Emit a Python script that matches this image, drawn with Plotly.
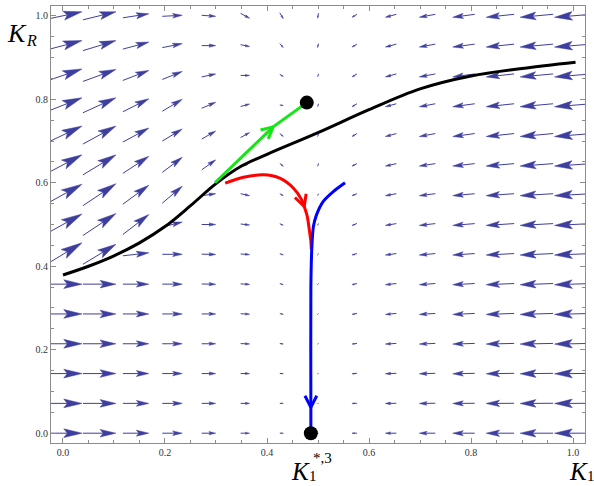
import math
import plotly.graph_objects as go

# ---------------- data ----------------
grid_x = [i / 14 for i in range(15)]          # arrow columns (K1)
grid_y = [j / 14 for j in range(15)]          # arrow rows (K_R)

# horizontal field component per column (display units, + = towards larger K1)
u_col = [38, 33, 26, 20, 14, 9, 3.5, -1, -5, -11, -16, -22, -28, -33, -37]

# vertical field component, rows from K_R = 0 (bottom) to K_R = 1 (top)
v_rows = [
    [0, 0, 0, 0, 0, 0, 0, 0, 0, 0, 0, 0, 0, 0, 0],
    [0, 0, 0, 0, 0, 0, 0, -0.2, -0.2, -0.2, -0.2, -0.2, -0.2, -0.2, -0.2],
    [0, 0, 0, 0, 0, 0, -0.3, -0.5, -0.5, -0.5, -0.5, -0.5, -0.5, -0.5, -0.5],
    [0, 0, 0, 0, 0, -0.3, -0.5, -0.7, -0.7, -0.7, -0.7, -0.7, -0.7, -0.7, -0.7],
    [0, 0, 0, 0, 0, -0.4, -0.7, -1, -1, -1, -1, -1, -1, -1, -1],
    [0, 0, 0, 0, -0.3, -0.5, -1, -1.2, -1.2, -1.2, -1.2, -1.2, -1.2, -1.2, -1.2],
    [23, 20, 3, 0, -0.3, -0.6, -1.2, -1.5, -1.5, -1.5, -1.5, -1.5, -1.5, -1.5, -1.5],
    [21, 22, 20, 5, 0, -1, -1.5, -2, -2, -1.8, -1.8, -1.8, -1.8, -1.8, -1.8],
    [21, 22, 19, 17, 2, -2, -2, -2, -2, -2, -2, -2, -2, -2, -2],
    [20, 20, 17, 15, 10, 4, -3, -3, -2.5, -2.5, -2.5, -2.5, -2.5, -2.5, -2.5],
    [18, 18, 14, 12, 8, 5, -3, -3, -3, -3, -3, -3, -3, -3, -3],
    [15, 15, 13, 12, 6, 2.5, -0.5, -3, -3, -3, -3, -3, -3, -3, -3],
    [13, 12, 10, 8, 3, 0, -2, -3, -3, -3, -3, -3, -3, -3, -3],
    [10, 10, 7, 4, 0, -2, -4, -4, -3, -3, -3, -3, -3, -3, -3],
    [8, 8, 4, 1, -1, -5, -6, -5, -3, -3, -3, -3, -3, -3, -3],
]

# separatrix (black)
sep_x = [0.0, 0.05, 0.10, 0.15, 0.20, 0.25, 0.30, 0.35, 0.40, 0.50, 0.60, 0.70, 0.80, 0.90, 1.005]
sep_y = [0.379, 0.400, 0.425, 0.456, 0.495, 0.545, 0.598, 0.640, 0.668, 0.720, 0.775, 0.825, 0.856, 0.874, 0.889]

# trajectories
green_x = [0.298, 0.412, 0.478]
green_y = [0.600, 0.734, 0.792]
red_x = [0.318, 0.354, 0.393, 0.425, 0.452, 0.468, 0.473, 0.479, 0.483, 0.486, 0.487]
red_y = [0.599, 0.613, 0.619, 0.611, 0.587, 0.559, 0.543, 0.519, 0.487, 0.460, 0.440]
blue_x = [0.553, 0.530, 0.510, 0.497, 0.491, 0.488, 0.486, 0.486, 0.486]
blue_y = [0.600, 0.579, 0.555, 0.523, 0.495, 0.447, 0.350, 0.062, 0.000]
head_index = {"green": 1, "red": 6, "blue": 7}

# equilibria
eq_x = [0.478, 0.486]
eq_y = [0.792, 0.000]

tick_vals = [0.0, 0.2, 0.4, 0.6, 0.8, 1.0]
tick_text = ["0.0", "0.2", "0.4", "0.6", "0.8", "1.0"]

# ---------------- layout geometry ----------------
FIG_W, FIG_H = 594, 486
ML, MR, MT, MB = 51, 9, 6, 43
PW, PH = FIG_W - ML - MR, FIG_H - MT - MB
XR = [-0.0235, 1.0235]
YR = [-0.0235, 1.0235]
SX = PW / (XR[1] - XR[0])
SY = PH / (YR[1] - YR[0])

ARROW_COL = "#3e3e9e"

# ---------------- vector field arrows ----------------
shaft_x, shaft_y, head_x, head_y = [], [], [], []
for j, yv in enumerate(grid_y):
    for i, xv in enumerate(grid_x):
        dx = u_col[i]
        dy = v_rows[j][i]
        L = math.hypot(dx, dy)
        if L < 0.4:
            continue
        ex, ey = dx / L, dy / L
        nx, ny = -ey, ex
        h = 0.48 * L
        w = 0.24 * h
        tip = (dx / 2, dy / 2)
        tail = (-dx / 2, -dy / 2)
        back = (tip[0] - ex * h * 0.8, tip[1] - ey * h * 0.8)
        b1 = (tip[0] - ex * h + nx * w, tip[1] - ey * h + ny * w)
        b2 = (tip[0] - ex * h - nx * w, tip[1] - ey * h - ny * w)

        def D(p):
            return xv + p[0] / SX, yv + p[1] / SY

        for p in (tail, back):
            a, b = D(p)
            shaft_x.append(a); shaft_y.append(b)
        shaft_x.append(None); shaft_y.append(None)
        for p in (tip, b1, back, b2, tip):
            a, b = D(p)
            head_x.append(a); head_y.append(b)
        head_x.append(None); head_y.append(None)

fig = go.Figure()
fig.add_trace(go.Scatter(x=shaft_x, y=shaft_y, mode="lines",
                         line=dict(color=ARROW_COL, width=1), hoverinfo="skip"))
fig.add_trace(go.Scatter(x=head_x, y=head_y, mode="lines", fill="toself",
                         fillcolor=ARROW_COL, line=dict(color=ARROW_COL, width=0.5),
                         hoverinfo="skip"))

# ---------------- curves ----------------
fig.add_trace(go.Scatter(x=sep_x, y=sep_y, mode="lines",
                         line=dict(color="black", width=3, shape="spline", smoothing=1.0),
                         hoverinfo="skip"))


def chevron(xs, ys, k, color):
    tx, ty = xs[k], ys[k]
    px, py = xs[k - 1], ys[k - 1]
    qx, qy = xs[k + 1], ys[k + 1]
    ddx, ddy = (qx - px) * SX, (qy - py) * SY
    L = math.hypot(ddx, ddy)
    bx, by = -ddx / L, -ddy / L
    arm, ang = 13.0, math.radians(27)
    pts = []
    for s in (1, -1):
        c, sn = math.cos(s * ang), math.sin(s * ang)
        rx, ry = bx * c - by * sn, bx * sn + by * c
        pts.append((tx + rx * arm / SX, ty + ry * arm / SY))
    fig.add_trace(go.Scatter(x=[pts[0][0], tx, pts[1][0]], y=[pts[0][1], ty, pts[1][1]],
                             mode="lines", line=dict(color=color, width=3),
                             hoverinfo="skip"))


GREEN, RED, BLUE = "#14e614", "#ff0000", "#0000ff"
fig.add_trace(go.Scatter(x=green_x, y=green_y, mode="lines",
                         line=dict(color=GREEN, width=3), hoverinfo="skip"))
chevron(green_x, green_y, head_index["green"], GREEN)
fig.add_trace(go.Scatter(x=red_x, y=red_y, mode="lines",
                         line=dict(color=RED, width=3, shape="spline", smoothing=0.8),
                         hoverinfo="skip"))
chevron(red_x, red_y, head_index["red"], RED)
fig.add_trace(go.Scatter(x=blue_x, y=blue_y, mode="lines",
                         line=dict(color=BLUE, width=3, shape="spline", smoothing=0.6),
                         hoverinfo="skip"))
chevron(blue_x, blue_y, head_index["blue"], BLUE)

fig.add_trace(go.Scatter(x=eq_x, y=eq_y, mode="markers", cliponaxis=False,
                         marker=dict(color="black", size=14, symbol="circle"),
                         hoverinfo="skip"))

# ---------------- axes ----------------
FRAME = "#8c8c8c"
axis_common = dict(
    showgrid=False, zeroline=False, showline=True, linecolor=FRAME, linewidth=1,
    mirror="allticks", ticks="inside", ticklen=5, tickcolor=FRAME, tickwidth=1,
    tickvals=tick_vals, ticktext=tick_text,
    tickfont=dict(family="Liberation Serif", size=10, color="#333333"),
    minor=dict(dtick=0.05, tick0=0, ticks="inside", ticklen=3, tickcolor=FRAME, tickwidth=1),
)
fig.update_xaxes(range=XR, **axis_common)
fig.update_yaxes(range=YR, **axis_common)


def px2paper(px, py):
    return (px - ML) / PW, (FIG_H - MB - py) / PH


annots = []


def label(text, px, py, size, italic=True, yanchor="middle"):
    xp, yp = px2paper(px, py)
    t = f"<i>{text}</i>" if italic else text
    annots.append(dict(text=t, x=xp, y=yp, xref="paper", yref="paper",
                       xanchor="left", yanchor=yanchor, showarrow=False, borderpad=0,
                       font=dict(family="Liberation Serif", size=size, color="black")))


# K_R (top left)
label("K", 6, 33, 26)
label("R", 24.5, 41, 16)
# K_1 (bottom right)
label("K", 568, 471, 25)
label("1", 585.5, 485, 15, italic=False, yanchor="bottom")
# K_1^{*,3} (below the axis)
label("K", 290, 471, 25)
label("1", 307.5, 485, 15, italic=False, yanchor="bottom")
label("*,3", 312, 457.5, 15, italic=False)

fig.update_layout(
    width=FIG_W, height=FIG_H,
    margin=dict(l=ML, r=MR, t=MT, b=MB),
    paper_bgcolor="white", plot_bgcolor="white",
    showlegend=False, annotations=annots,
)

fig.write_html("out.html")
